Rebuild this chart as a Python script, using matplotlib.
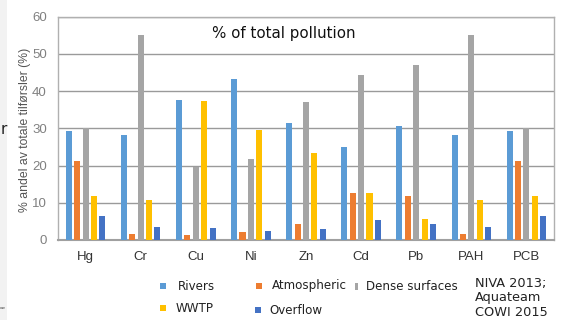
import matplotlib
matplotlib.use("Agg")
import matplotlib.pyplot as plt
import matplotlib.patches as mpatches
import numpy as np

categories = ["Hg", "Cr", "Cu", "Ni", "Zn", "Cd", "Pb", "PAH", "PCB"]
rivers      = [29.3, 28.2, 37.6, 43.2, 31.3, 24.9, 30.6, 28.2, 29.3]
atmospheric = [21.2, 1.6, 1.4, 2.2, 4.4, 12.5, 11.9, 1.6, 21.2]
dense       = [30.0, 55.1, 19.5, 21.8, 37.0, 44.2, 46.9, 55.1, 30.0]
wwtp        = [11.9, 10.8, 37.4, 29.6, 23.3, 12.5, 5.6, 10.8, 11.9]
overflow    = [6.5, 3.4, 3.3, 2.5, 2.9, 5.4, 4.2, 3.4, 6.5]
series_names = ["Rivers", "Atmospheric", "Dense surfaces", "WWTP", "Overflow"]
yticks = [0, 10, 20, 30, 40, 50, 60]

colors = ["#5B9BD5", "#ED7D31", "#A5A5A5", "#FFC000", "#4472C4"]
series = [rivers, atmospheric, dense, wwtp, overflow]

W, H = 566, 320
fig = plt.figure(figsize=(W / 100, H / 100), dpi=100)
fig.patch.set_facecolor("white")


def fx(px):
    return px / W


def fy(py):
    return 1 - py / H


# left gray strip of slide
fig.patches.append(mpatches.Rectangle((0, 0), fx(7), 1, transform=fig.transFigure,
                                      facecolor="#f2f2f2", edgecolor="none", zorder=0))

ax = fig.add_axes([fx(58), fy(240), fx(554 - 58), (240 - 16.5) / H])
x = np.arange(len(categories))
step = 0.152
bw = 0.11
for i, (vals, c) in enumerate(zip(series, colors)):
    ax.bar(x + (i - 2) * step, vals, width=bw, color=c, zorder=3)

ax.set_xlim(-0.5, len(categories) - 0.5)
ax.set_ylim(0, 60)
ax.set_yticks(yticks)
ax.set_yticklabels([str(t) for t in yticks], family="Liberation Sans", fontsize=9.5, color="#808080")
ax.set_xticks(x)
ax.set_xticklabels(categories, family="Liberation Sans", fontsize=9.5, color="#333333")
ax.tick_params(axis="x", length=0, pad=8)
ax.tick_params(axis="y", length=0, pad=8)
for yv in yticks[1:]:
    ax.axhline(yv, color="#9a9a9a", lw=1.0, zorder=1)
for s in ["top", "right", "left"]:
    ax.spines[s].set_color("#b0b0b0")
    ax.spines[s].set_linewidth(1.0)
ax.spines["bottom"].set_color("#a0a0a0")
ax.spines["bottom"].set_linewidth(1.5)

ax.text(0.456, 0.926, "% of total pollution", transform=ax.transAxes, ha="center", va="center",
        fontsize=10.8, family="DejaVu Sans", color="#111111")

fig.text(fx(25), fy(130), "% andel av totale tilførsler (%)", rotation=90, ha="center", va="center",
         family="Liberation Sans", fontsize=8.8, color="#555555")

fig.text(fx(1), fy(130), "r", ha="left", va="center", fontsize=11, family="DejaVu Sans", color="#222222")
fig.text(fx(0), fy(308), "ow", ha="left", va="center", fontsize=3, family="DejaVu Sans", color="#444444")

# legend (manually placed, like the reference's two-row layout)
leg_items = [
    # (series index, marker x, text x, y, marker w, marker h)
    (0, 163, 178, 286, 6, 6),
    (1, 259, 272, 286, 6, 6),
    (2, 356, 366, 286, 3, 7),
    (3, 163, 176, 308, 6, 6),
    (4, 258, 269, 310, 6, 6),
]
for idx, mx, tx, yy, mw, mh in leg_items:
    fig.patches.append(mpatches.Rectangle((fx(mx - mw / 2), fy(yy + mh / 2)), mw / W, mh / H,
                                          transform=fig.transFigure, facecolor=colors[idx],
                                          edgecolor="none"))
    fig.text(fx(tx), fy(yy), series_names[idx], ha="left", va="center",
             family="DejaVu Sans", fontsize=8.6, color="#222222")

fig.text(fx(475), fy(298), "NIVA 2013;\nAquateam\nCOWI 2015", ha="left", va="center",
         family="DejaVu Sans", fontsize=9.3, color="#222222", linespacing=1.12)

fig.savefig("out.png", dpi=100)
